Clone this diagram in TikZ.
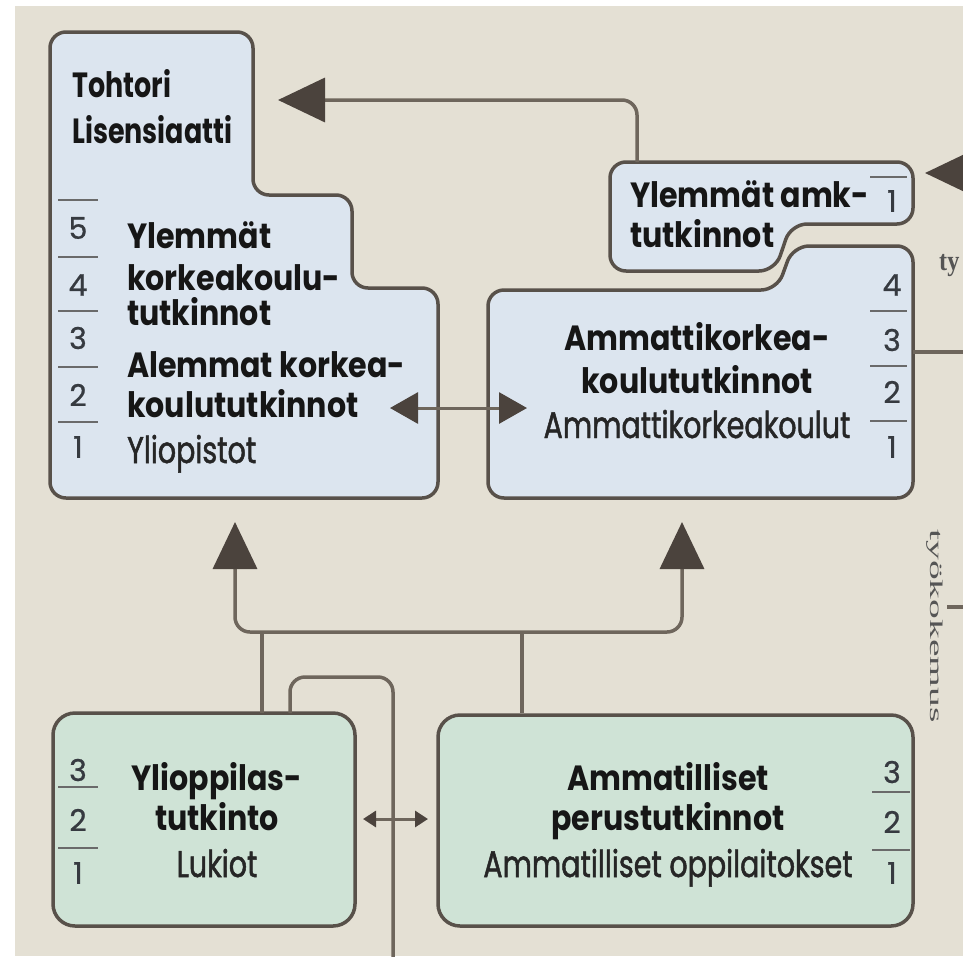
\documentclass[tikz,border=0pt]{standalone}
\usepackage{fontspec}
\setmainfont{Poppins}
\newfontfamily\bfnt[FakeStretch=0.86]{Poppins}
\newfontfamily\bcfnt[FakeStretch=0.77]{Poppins}
\newfontfamily\cfnt[FakeStretch=0.77,FakeBold=1.3]{Poppins}
\newfontfamily\nfnt[FakeBold=0.8]{Poppins}
\newfontfamily\serfnt{Liberation Serif}
\usetikzlibrary{arrows.meta}
\definecolor{bgc}{HTML}{E4E0D4}
\definecolor{bluec}{HTML}{DCE5EF}
\definecolor{greenc}{HTML}{CFE3D6}
\definecolor{edgec}{HTML}{58514A}
\definecolor{connc}{HTML}{6E665C}
\definecolor{tipc}{HTML}{4B433D}
\definecolor{txtc}{HTML}{161616}
\definecolor{ctxtc}{HTML}{262626}
\definecolor{numc}{HTML}{363A40}
\definecolor{rulec}{HTML}{6A6A6A}
\definecolor{sertc}{HTML}{555555}
\tikzset{
  bluebox/.style={fill=bluec, draw=edgec, line width=3.5pt, rounded corners=16pt, line join=round},
  greenbox/.style={fill=greenc, draw=edgec, line width=3.5pt, rounded corners=22pt, line join=round},
  conn/.style={draw=connc, line width=3.5pt, rounded corners=15pt},
  bigtip/.style={-{Triangle[length=47pt,width=44pt,color=tipc]}},
  midtip/.style={{Triangle[length=28pt,width=31pt,color=tipc]}-{Triangle[length=28pt,width=31pt,color=tipc]}},
  smalltip/.style={{Triangle[length=13pt,width=16pt,color=tipc]}-{Triangle[length=13pt,width=16pt,color=tipc]}},
  boldlab/.style={inner sep=0pt, text=txtc, font=\bfnt\bfseries\fontsize{35}{40}\selectfont},
  bclab/.style={inner sep=0pt, text=txtc, font=\bcfnt\bfseries\fontsize{35}{40}\selectfont},
  condlab/.style={inner sep=0pt, text=ctxtc, font=\cfnt\fontsize{37}{40}\selectfont},
  numlab/.style={inner sep=0pt, text=numc, font=\nfnt\fontsize{30}{32}\selectfont},
  rulemark/.style={draw=rulec, line width=2.8pt},
  serlab/.style={inner sep=0pt, text=sertc, font=\serfnt\fontsize{18}{20}\selectfont}
}
\begin{document}
\begin{tikzpicture}[x=1pt,y=-1pt]
\useasboundingbox (0,0) rectangle (963,956);
\clip (0,0) rectangle (963,956);
\fill[bgc] (0,0) rectangle (963,956);
\fill[white] (0,0) rectangle (15,956);
\fill[white] (0,0) rectangle (963,6);

% ---- boxes
\draw[bluebox] (150,32) -- (253,32) -- (253,195) -- (352,195) -- (352,288) -- (438,288) -- (438,498) -- (50,498) -- (50,32) -- cycle;
\draw[bluebox] (600,290) -- (777,290) -- (793,246) -- (913,246) -- (913,498) -- (488,498) -- (488,290) -- cycle;
\draw[bluebox] (700,162) -- (913,162) -- (913,224) -- (791,224) -- (775,271) -- (610,271) -- (610,162) -- cycle;
\draw[greenbox] (53,713) rectangle (355,926);
\draw[greenbox] (438,715) rectangle (913,926);

% ---- named connection points
\coordinate (ylamktop) at (637,162);
\coordinate (tohtoritip) at (278,100);
\coordinate (extin) at (1010,173);
\coordinate (ylamktip) at (925,173);
\coordinate (amkright) at (913,352);
\coordinate (amkout) at (963,352);
\coordinate (yotip) at (390,408);
\coordinate (amktip) at (527,408);
\coordinate (yotipb) at (235,522);
\coordinate (amktipb) at (682,522);
\coordinate (bus) at (450,632);
\coordinate (lukiotop) at (262,713);
\coordinate (ammtop) at (522,713);
\coordinate (lukioloop) at (290,713);
\coordinate (loopturn) at (393,677);
\coordinate (loopend) at (393,970);
\coordinate (lukioright) at (363,819);
\coordinate (ammleft) at (428,819);
\coordinate (ticka) at (947,607);
\coordinate (tickb) at (963,607);

% ---- left box texts
\node[bclab, anchor=base west] (tohtori) at (72,97) {Tohtori};
\node[bclab, anchor=base west] (lis) at (72,143) {Lisensiaatti};
\node[boldlab, anchor=base west] (yl1) at (127,248) {Ylemmät};
\node[boldlab, anchor=base west] (yl2) at (127,290) {korkeakoulu-};
\node[boldlab, anchor=base west] (yl3) at (127,325) {tutkinnot};
\node[boldlab, anchor=base west] (al1) at (127,377) {Alemmat korkea-};
\node[boldlab, anchor=base west] (al2) at (127,417) {koulututkinnot};
\node[condlab, anchor=base west] (yliop) at (127,463) {Yliopistot};
\foreach \yy in {200,257,311,367,422} \draw[rulemark] (58,\yy) -- (98,\yy);
\node[numlab] (l5) at (78,228) {5};
\node[numlab] (l4) at (78,285) {4};
\node[numlab] (l3) at (78,338) {3};
\node[numlab] (l2) at (78,395) {2};
\node[numlab] (l1) at (78,447) {1};

% ---- small box texts
\node[boldlab, anchor=base west] (ya1) at (630,207) {Ylemmät amk-};
\node[boldlab, anchor=base west] (ya2) at (630,247) {tutkinnot};
\draw[rulemark] (870,177) -- (907,177);
\node[numlab] (s1) at (892,201) {1};

% ---- AMK box texts
\node[boldlab, anchor=base] (amk1) at (697,350) {Ammattikorkea-};
\node[boldlab, anchor=base] (amk2) at (697,393) {koulututkinnot};
\node[condlab, anchor=base] (amk3) at (697,438) {Ammattikorkeakoulut};
\foreach \yy in {311,366,421} \draw[rulemark] (870,\yy) -- (907,\yy);
\node[numlab] (a4) at (892,285) {4};
\node[numlab] (a3) at (892,340) {3};
\node[numlab] (a2) at (892,392) {2};
\node[numlab] (a1) at (892,447) {1};

% ---- Lukio box
\node[boldlab, anchor=base] (luk1) at (217,790) {Ylioppilas-};
\node[boldlab, anchor=base] (luk2) at (217,830) {tutkinto};
\node[condlab, anchor=base] (luk3) at (217,877) {Lukiot};
\foreach \yy in {787,848} \draw[rulemark] (58,\yy) -- (98,\yy);
\node[numlab] (k3) at (78,770) {3};
\node[numlab] (k2) at (78,820) {2};
\node[numlab] (k1) at (78,873) {1};

% ---- Ammatilliset box
\node[boldlab, anchor=base] (am1) at (668,790) {Ammatilliset};
\node[boldlab, anchor=base] (am2) at (668,830) {perustutkinnot};
\node[condlab, anchor=base] (am3) at (668,877) {Ammatilliset oppilaitokset};
\foreach \yy in {792,850} \draw[rulemark] (872,\yy) -- (910,\yy);
\node[numlab] (m3) at (892,772) {3};
\node[numlab] (m2) at (892,822) {2};
\node[numlab] (m1) at (892,873) {1};

% ---- side texts
\node[serlab, anchor=base west, font=\serfnt\bfseries\fontsize{22}{24}\selectfont] (ty) at (939,270) {\scalebox{1.1}[1.3]{ty}};
\node[serlab, rotate=-90] (tyok) at (935,626) {\scalebox{2.2}[1]{työkokemus}};

% ---- connectors
\draw[conn, bigtip] (ylamktop) |- (tohtoritip);
\draw[conn, bigtip, rounded corners=0pt] (extin) -- (ylamktip);
\draw[conn] (amkright) -- (amkout);
\draw[conn, midtip, line width=3pt] (yotip) -- (amktip);
\draw[conn, {Triangle[length=47pt,width=44pt,color=tipc]}-{Triangle[length=47pt,width=44pt,color=tipc]}] (yotipb) |- (bus) -| (amktipb);
\draw[conn] (lukiotop) -- (lukiotop |- bus);
\draw[conn] (ammtop) -- (ammtop |- bus);
\draw[conn] (lukioloop) |- (loopturn) -- (loopend);
\draw[conn, smalltip, line width=3pt] (lukioright) -- (ammleft);
\draw[conn] (ticka) -- (tickb);
\end{tikzpicture}
\end{document}
